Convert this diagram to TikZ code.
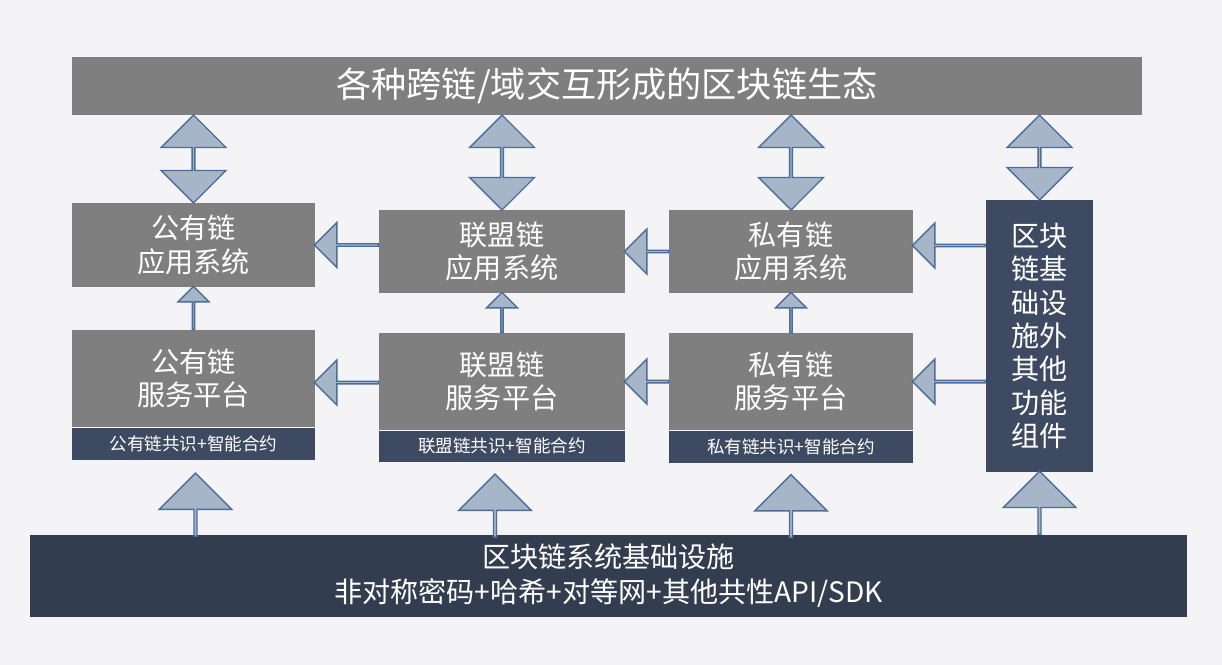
\documentclass[tikz,border=0pt]{standalone}
\usepackage{fontspec}
\setmainfont{Noto Sans CJK SC}
\usetikzlibrary{positioning,calc,shapes.arrows}
\definecolor{boxgray}{HTML}{7F7F7F}
\definecolor{navy}{HTML}{3E4A62}
\definecolor{deepnavy}{HTML}{333D50}
\definecolor{arrfill}{HTML}{A7B5C9}
\definecolor{arrline}{HTML}{4A6D9C}
\definecolor{bg}{HTML}{F4F4F6}

\begin{document}
\begin{tikzpicture}[x=0.02cm,y=-0.02cm,
    box/.style={fill=boxgray, text=white, align=center, inner sep=0pt, font=\fontsize{16}{19}\selectfont},
    strip/.style={fill=navy, text=white, inner sep=0pt, font=\fontsize{10}{12}\selectfont},
    updown/.style={double arrow, rotate=90, fill=arrfill, draw=arrline, thick, inner sep=0pt,
        minimum width=1.3cm, double arrow head extend=0.33cm, double arrow tip angle=90, minimum height=1.76cm},
    leftarr/.style={single arrow, shape border rotate=180, fill=arrfill, draw=arrline, thick, inner sep=0pt,
        minimum width=0.9cm, single arrow head extend=0.23cm, single arrow tip angle=90},
    smallup/.style={single arrow, shape border rotate=90, fill=arrfill, draw=arrline, thick, inner sep=0pt,
        minimum width=0.62cm, single arrow head extend=0.18cm, single arrow tip angle=90, minimum height=0.86cm},
    bigup/.style={single arrow, shape border rotate=90, fill=arrfill, draw=arrline, thick, inner sep=0pt,
        minimum width=1.45cm, single arrow head extend=0.32cm, single arrow tip angle=90, minimum height=1.26cm}
]
    \fill[bg] (0,0) rectangle (1222,665);
    \useasboundingbox (0,0) rectangle (1222,665);

    % top and bottom bars
    \node[box, minimum width=21.4cm, minimum height=1.16cm, font=\fontsize{20}{24}\selectfont] (eco) at (607,86) {各种跨链/域交互形成的区块链生态};
    \node[fill=deepnavy, text=white, align=center, inner sep=0pt, minimum width=23.14cm, minimum height=1.64cm,
        font=\fontsize{16}{20}\selectfont] (base) at (608.5,576) {区块链系统基础设施\\非对称密码+哈希+对等网+其他共性API/SDK};

    % application row
    \node[box, minimum width=4.86cm, minimum height=1.68cm] (pubapp) at (193.5,245) {公有链\\应用系统};
    \node[box, minimum width=4.92cm, minimum height=1.66cm] (allapp) at (502,251.5) {联盟链\\应用系统};
    \node[box, minimum width=4.88cm, minimum height=1.66cm] (priapp) at (791,251.5) {私有链\\应用系统};

    % service row
    \node[box, minimum width=4.86cm, minimum height=1.94cm] (pubsvc) at (193.5,378.5) {公有链\\服务平台};
    \node[box, minimum width=4.92cm, minimum height=1.94cm] (allsvc) at (502,381.5) {联盟链\\服务平台};
    \node[box, minimum width=4.88cm, minimum height=1.94cm] (prisvc) at (791,381.5) {私有链\\服务平台};
    \node[strip, minimum width=4.86cm, minimum height=0.64cm, below=0pt of pubsvc] (pubcon) {公有链共识+智能合约};
    \node[strip, minimum width=4.92cm, minimum height=0.62cm, below=0pt of allsvc] (allcon) {联盟链共识+智能合约};
    \node[strip, minimum width=4.88cm, minimum height=0.64cm, below=0pt of prisvc] (pricon) {私有链共识+智能合约};

    % side column
    \node[fill=navy, text=white, align=center, inner sep=0pt, minimum width=2.14cm, minimum height=5.44cm,
        font=\fontsize{16}{19}\selectfont] (side) at (1039.5,336) {区块\\链基\\础设\\施外\\其他\\功能\\组件};

    % arrows to the ecosystem bar
    \node[updown] at ($(eco.south -| pubapp.north)!0.5!(pubapp.north)$) {};
    \node[updown, minimum height=1.9cm] at ($(eco.south -| allapp.north)!0.5!(allapp.north)$) {};
    \node[updown, minimum height=1.9cm] at ($(eco.south -| priapp.north)!0.5!(priapp.north)$) {};
    \node[updown, minimum height=1.7cm] at ($(eco.south -| side.north)!0.5!(side.north)$) {};

    % arrows to the left
    \node[leftarr, minimum height=1.28cm] at ($(pubapp.east)!0.5!(allapp.west |- pubapp.east)$) {};
    \node[leftarr, minimum height=0.88cm] at ($(allapp.east)!0.5!(priapp.west)$) {};
    \node[leftarr, minimum height=1.46cm] at ($(priapp.east)!0.5!(side.west |- priapp.east)+(0,-6)$) {};
    \node[leftarr, minimum height=1.28cm] at ($(pubsvc.east)!0.5!(allsvc.west |- pubsvc.east)+(0,4)$) {};
    \node[leftarr, minimum height=0.88cm] at ($(allsvc.east)!0.5!(prisvc.west)$) {};
    \node[leftarr, minimum height=1.46cm] at ($(prisvc.east)!0.5!(side.west |- prisvc.east)$) {};

    % service to application
    \node[smallup] at ($(pubsvc.north)!0.5!(pubapp.south)$) {};
    \node[smallup, minimum height=0.8cm] at ($(allsvc.north)!0.5!(allapp.south)$) {};
    \node[smallup, minimum height=0.8cm] at ($(prisvc.north)!0.5!(priapp.south)$) {};

    % infrastructure upwards
    \node[bigup] at ($(base.north -| pubcon.south)!0.5!(pubcon.south)+(2,8)$) {};
    \node[bigup] at ($(base.north -| allcon.south)!0.5!(allcon.south)+(-7,8)$) {};
    \node[bigup] at ($(base.north -| pricon.south)!0.5!(pricon.south)+(0,8)$) {};
    \node[bigup] at ($(base.north -| side.south)!0.5!(side.south)$) {};
\end{tikzpicture}
\end{document}
